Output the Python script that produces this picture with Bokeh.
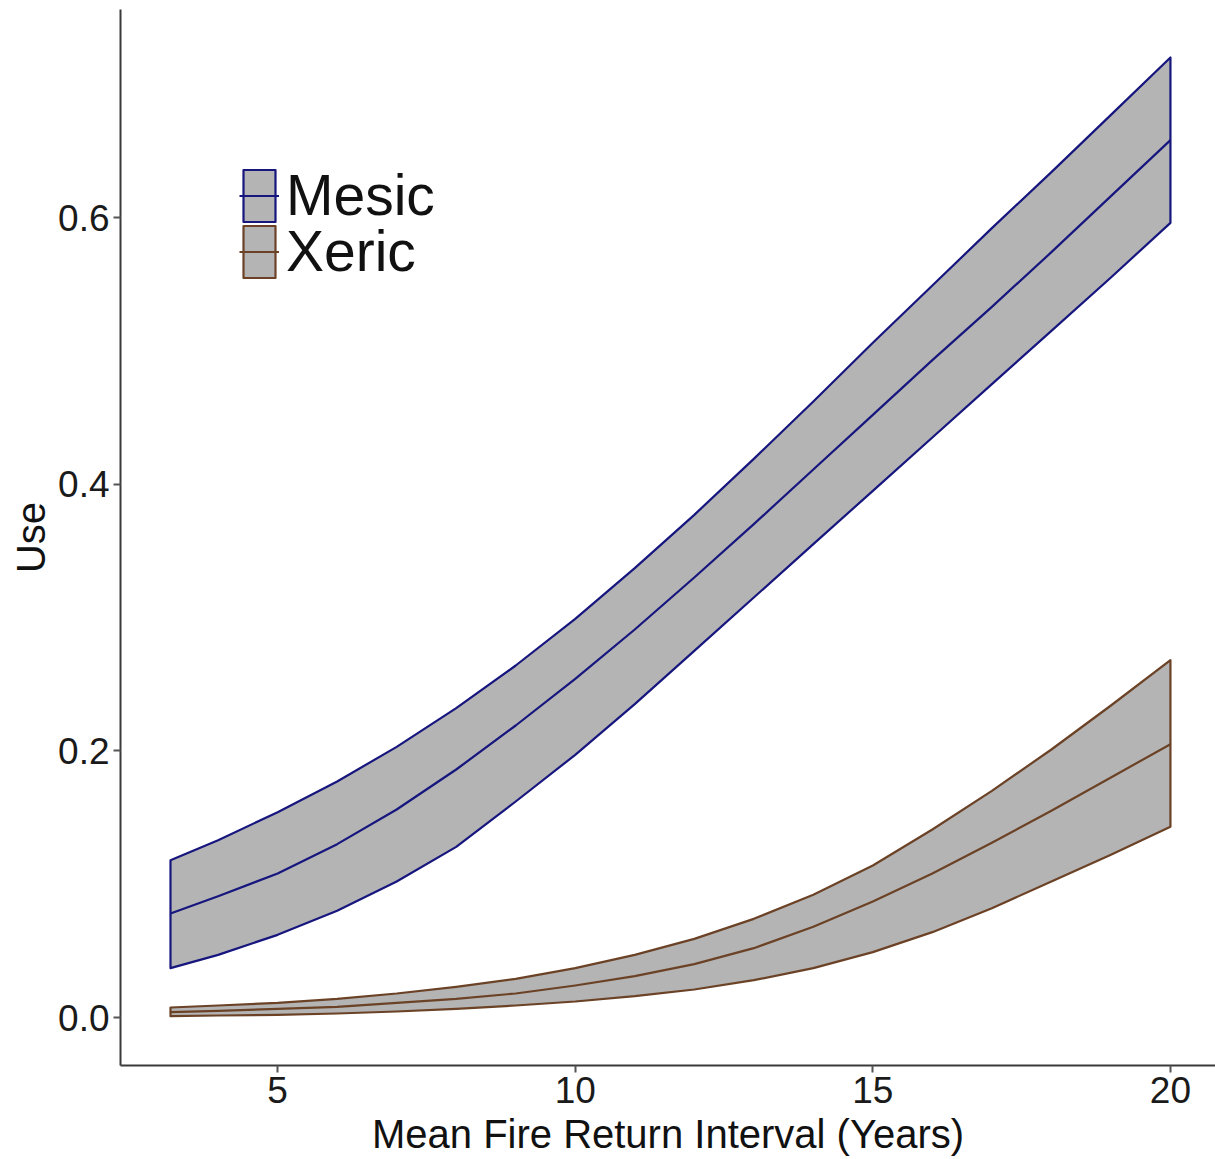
from bokeh.plotting import figure
from bokeh.models import ColumnDataSource, FixedTicker, Legend, LegendItem, Range1d, NumeralTickFormatter
from bokeh.embed import file_html
from bokeh.resources import INLINE

# Mean fire return interval (years)
fri = [3.2, 4, 5, 6, 7, 8, 9, 10, 11, 12, 13, 14, 15, 16, 17, 18, 19, 20]

# Mesic: fitted use and confidence band
mesic_fit = [0.078, 0.091, 0.108, 0.130, 0.156, 0.186, 0.219, 0.254, 0.291, 0.330, 0.370,
             0.411, 0.452, 0.493, 0.533, 0.574, 0.616, 0.658]
mesic_upper = [0.118, 0.133, 0.154, 0.177, 0.203, 0.232, 0.264, 0.299, 0.337, 0.377, 0.419,
               0.462, 0.506, 0.549, 0.592, 0.634, 0.677, 0.720]
mesic_lower = [0.037, 0.047, 0.062, 0.080, 0.102, 0.128, 0.162, 0.197, 0.235, 0.275, 0.315,
               0.355, 0.395, 0.435, 0.475, 0.515, 0.555, 0.596]

# Xeric: fitted use and confidence band
xeric_fit = [0.004, 0.005, 0.0065, 0.008, 0.011, 0.014, 0.018, 0.024, 0.031, 0.040, 0.052,
             0.068, 0.087, 0.108, 0.131, 0.155, 0.180, 0.205]
xeric_upper = [0.0075, 0.009, 0.011, 0.014, 0.018, 0.023, 0.029, 0.037, 0.047, 0.059, 0.074,
               0.092, 0.114, 0.141, 0.170, 0.201, 0.234, 0.268]
xeric_lower = [0.001, 0.0015, 0.002, 0.003, 0.0045, 0.0065, 0.009, 0.012, 0.016, 0.021, 0.028,
               0.037, 0.049, 0.064, 0.082, 0.102, 0.122, 0.143]

series_names = ["Mesic", "Xeric"]
series_colors = ["#16167e", "#6b4226"]
band_fill = "#b4b4b4"

x_ticks = [5, 10, 15, 20]
y_ticks = [0.0, 0.2, 0.4, 0.6]

p = figure(width=1215, height=1159,
           x_range=Range1d(2.36, 20.757), y_range=Range1d(-0.036, 0.756),
           output_backend="svg", toolbar_location=None,
           min_border_left=120, min_border_right=0, min_border_top=9, min_border_bottom=94)
p.background_fill_color = "white"
p.border_fill_color = "white"
p.outline_line_color = None
p.xgrid.visible = False
p.ygrid.visible = False

legend_y = [837, 781]
for name, col, fit, up, lo, ly in [
    (series_names[0], series_colors[0], mesic_fit, mesic_upper, mesic_lower, legend_y[0]),
    (series_names[1], series_colors[1], xeric_fit, xeric_upper, xeric_lower, legend_y[1]),
]:
    poly = ColumnDataSource(dict(x=fri + fri[::-1], y=up + lo[::-1]))
    band = p.patch(x="x", y="y", source=poly, fill_color=band_fill, fill_alpha=1.0,
                   line_color=col, line_width=2.2, line_join="round")
    src = ColumnDataSource(dict(x=fri, y=fit))
    ln = p.line(x="x", y="y", source=src, line_color=col, line_width=2.2, line_join="round")
    leg = Legend(items=[LegendItem(label=name, renderers=[band, ln])], location=(119, ly),
                 padding=0, margin=0, spacing=0,
                 glyph_width=40, glyph_height=65, label_height=65, label_standoff=7,
                 label_text_font="Liberation Sans", label_text_font_size="57px",
                 label_text_color="#111111", background_fill_alpha=0, border_line_color=None)
    p.add_layout(leg, "center")

for ax in (p.xaxis[0], p.yaxis[0]):
    ax.axis_line_color = "#3a3a3a"
    ax.axis_line_width = 2
    ax.major_tick_line_color = "#555555"
    ax.major_tick_line_width = 2
    ax.major_tick_in = 0
    ax.major_tick_out = 7
    ax.minor_tick_line_color = None
    ax.major_label_text_font = "Liberation Sans"
    ax.major_label_text_font_size = "37px"
    ax.major_label_text_color = "#1a1a1a"
    ax.major_label_standoff = 4
    ax.axis_label_text_font = "Liberation Sans"
    ax.axis_label_text_font_size = "40px"
    ax.axis_label_text_font_style = "normal"
    ax.axis_label_text_color = "#111111"
    ax.axis_label_standoff = 2

p.xaxis[0].axis_label_standoff = 6
p.xaxis[0].ticker = FixedTicker(ticks=x_ticks)
p.yaxis[0].ticker = FixedTicker(ticks=y_ticks)
p.yaxis[0].formatter = NumeralTickFormatter(format="0.0")
p.xaxis[0].axis_label = "Mean Fire Return Interval (Years)"
p.yaxis[0].axis_label = "Use"

open("out.html", "w").write(file_html(p, INLINE))
